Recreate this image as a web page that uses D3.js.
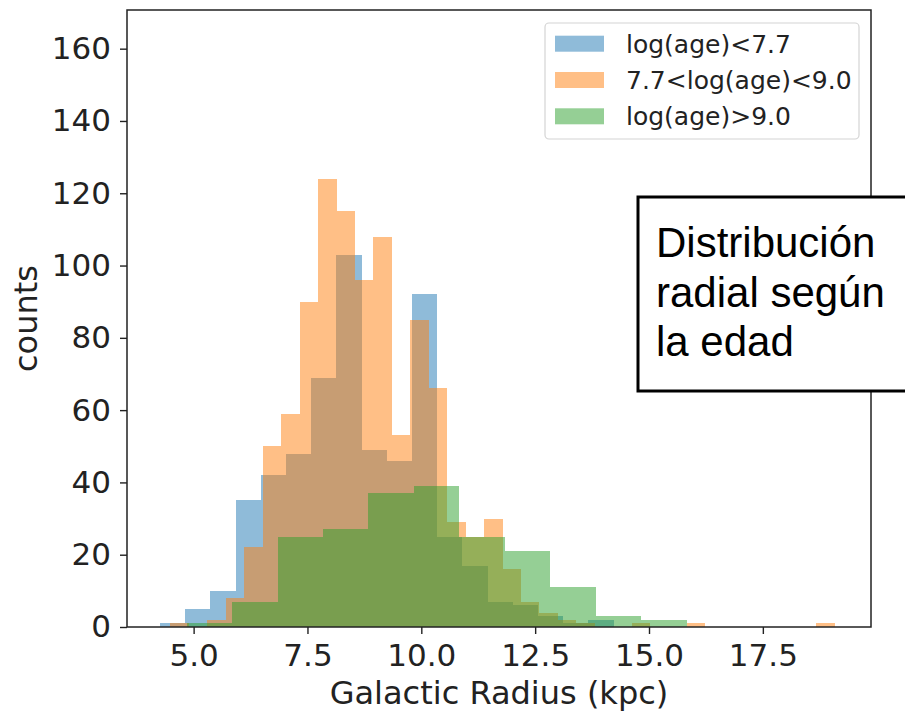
<!DOCTYPE html>
<html>
<head>
<meta charset="utf-8">
<script src="https://cdn.jsdelivr.net/npm/d3@7"></script>
<style>
  html, body { margin: 0; padding: 0; background: #fff; }
  svg { display: block; }
</style>
</head>
<body>
<div id="chart"></div>
<script>
// ---- data ----
const seriesNames = ["log(age)<7.7", "7.7<log(age)<9.0", "log(age)>9.0"];
const seriesColors = ["#1f77b4", "#ff7f0e", "#2ca02c"];

// histogram bin range [first edge, last edge] and counts per bin
const blueRange = [4.262, 14.223];
const blueCounts = [1, 5, 10, 35, 42, 48, 69, 103, 49, 46, 92, 25, 17, 7, 6, 3, 1, 2];

const orangeRange = [4.492, 19.076];
const orangeCounts = [1, 0, 2, 8, 22, 50, 59, 90, 124, 115, 96, 108, 53, 85, 66, 29, 25, 30,
                      16, 7, 4, 2, 1, 0, 0, 1, 0, 0, 1, 0, 0, 0, 0, 0, 0, 1];

const greenRange = [4.848, 15.826];
const greenCounts = [1, 7, 25, 27, 37, 39, 25, 21, 11, 3, 2];

const xTicks = [5.0, 7.5, 10.0, 12.5, 15.0, 17.5];
const yTicks = [0, 20, 40, 60, 80, 100, 120, 140, 160];
const xDomain = [3.537, 19.875];
const yDomain = [0, 170.7];

const xLabel = "Galactic Radius (kpc)";
const yLabel = "counts";
const noteLines = ["Distribución", "radial según", "la edad"];

// ---- layout ----
const W = 905, H = 712;
const plot = { left: 127, right: 871, top: 10, bottom: 627 };

const svg = d3.select("#chart").append("svg")
  .attr("width", W).attr("height", H)
  .style("background", "#fff");

const x = d3.scaleLinear().domain(xDomain).range([plot.left, plot.right]);
const y = d3.scaleLinear().domain(yDomain).range([plot.bottom, plot.top]);

function binsFrom(range, counts) {
  const n = counts.length;
  const w = (range[1] - range[0]) / n;
  return counts.map((c, i) => ({ x0: range[0] + i * w, x1: range[0] + (i + 1) * w, c }));
}

const series = [
  { name: seriesNames[0], color: seriesColors[0], bins: binsFrom(blueRange, blueCounts) },
  { name: seriesNames[1], color: seriesColors[1], bins: binsFrom(orangeRange, orangeCounts) },
  { name: seriesNames[2], color: seriesColors[2], bins: binsFrom(greenRange, greenCounts) }
];

const barsG = svg.append("g");
series.forEach(s => {
  barsG.append("g")
    .attr("fill", s.color)
    .attr("fill-opacity", 0.5)
    .selectAll("rect")
    .data(s.bins.filter(b => b.c > 0))
    .join("rect")
    .attr("x", d => x(d.x0))
    .attr("width", d => x(d.x1) - x(d.x0))
    .attr("y", d => y(d.c))
    .attr("height", d => y(0) - y(d.c))
    .attr("shape-rendering", "crispEdges");
});

// axes
const tickFont = "DejaVu Sans, sans-serif";
const xAxis = d3.axisBottom(x).tickValues(xTicks).tickFormat(d3.format(".1f"))
  .tickSize(7).tickPadding(10);
const yAxis = d3.axisLeft(y).tickValues(yTicks).tickFormat(d3.format("d"))
  .tickSize(7).tickPadding(9);

const gx = svg.append("g").attr("transform", `translate(0,${plot.bottom})`).call(xAxis);
const gy = svg.append("g").attr("transform", `translate(${plot.left},0)`).call(yAxis);
[gx, gy].forEach(g => {
  g.select(".domain").remove();
  g.selectAll(".tick line").attr("stroke", "#222").attr("stroke-width", 1.4);
  g.selectAll(".tick text").attr("fill", "#222")
    .style("font-family", tickFont).style("font-size", "31px");
});

// frame (spines)
svg.append("rect")
  .attr("x", plot.left).attr("y", plot.top)
  .attr("width", plot.right - plot.left).attr("height", plot.bottom - plot.top)
  .attr("fill", "none").attr("stroke", "#222").attr("stroke-width", 1.5);

// axis labels
svg.append("text")
  .attr("x", (plot.left + plot.right) / 2).attr("y", 704)
  .attr("text-anchor", "middle")
  .style("font-family", tickFont).style("font-size", "32px").attr("fill", "#222")
  .text(xLabel);

svg.append("text")
  .attr("transform", `translate(37,${(plot.top + plot.bottom) / 2}) rotate(-90)`)
  .attr("text-anchor", "middle")
  .style("font-family", tickFont).style("font-size", "32px").attr("fill", "#222")
  .text(yLabel);

// legend
const leg = svg.append("g");
leg.append("rect")
  .attr("x", 545).attr("y", 23).attr("width", 314).attr("height", 116)
  .attr("rx", 4).attr("ry", 4)
  .attr("fill", "#fff").attr("fill-opacity", 0.8)
  .attr("stroke", "#d4d4d4").attr("stroke-width", 1.2);
series.forEach((s, i) => {
  const cy = 43.7 + i * 36.3;
  leg.append("rect")
    .attr("x", 555).attr("y", cy - 8).attr("width", 49).attr("height", 16)
    .attr("fill", s.color).attr("fill-opacity", 0.5);
  leg.append("text")
    .attr("x", 626).attr("y", cy).attr("dy", "0.36em")
    .style("font-family", tickFont).style("font-size", "25px").attr("fill", "#222")
    .text(s.name);
});

// note box
const note = svg.append("g");
note.append("rect")
  .attr("x", 638).attr("y", 197).attr("width", 300).attr("height", 194)
  .attr("fill", "#fff").attr("stroke", "#000").attr("stroke-width", 3);
noteLines.forEach((t, i) => {
  note.append("text")
    .attr("x", 656).attr("y", 257 + i * 49.7)
    .style("font-family", "Liberation Sans, Arial, sans-serif")
    .style("font-size", "42px").attr("fill", "#000")
    .text(t);
});
</script>
</body>
</html>
